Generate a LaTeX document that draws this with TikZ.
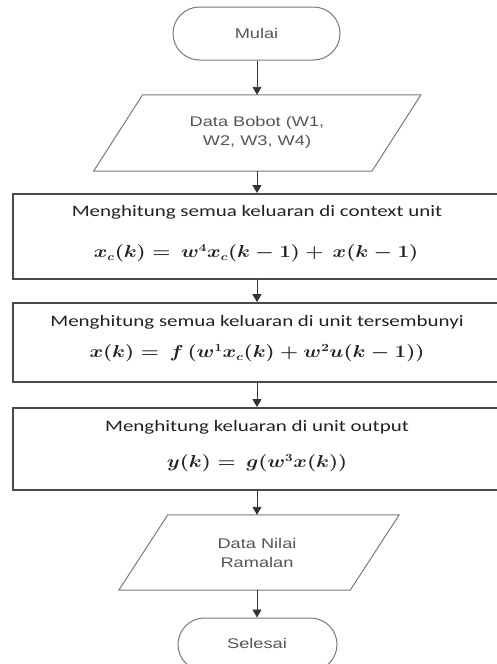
\documentclass[tikz,border=0pt]{standalone}
\usepackage{fontspec}
\setmainfont{Liberation Sans}
\newfontfamily\boxfont{Carlito}
\usetikzlibrary{arrows.meta,shapes.misc}
\definecolor{termgray}{HTML}{7A7A7A}
\definecolor{framegray}{HTML}{4A4A4A}
\definecolor{arrowgray}{HTML}{333333}
\definecolor{textgray}{HTML}{555555}
\definecolor{inkdark}{HTML}{222222}
\newcommand\wide[1]{\scalebox{1.3}[1]{#1}}
\newcommand\wider[1]{\scalebox{1.31}[1]{#1}}
\newcommand\widest[1]{\scalebox{1.2}[1]{#1}}
\begin{document}
\begin{tikzpicture}[x=1pt,y=-1pt,
  term/.style={rounded rectangle, draw=termgray, line width=1pt,
    minimum height=53pt, inner sep=0pt},
  frame/.style={draw=framegray, line width=1.8pt, minimum width=488pt, inner sep=0pt},
  iobox/.style={draw=none, inner sep=0pt, minimum height=76pt},
  para/.style={draw=termgray, line width=1pt, line join=miter},
  flow/.style={draw=arrowgray, line width=0.9pt, -{Triangle[length=8pt,width=9pt]}},
  soft/.style={font=\fontsize{14}{19}\selectfont, text=textgray, align=center, inner sep=0pt},
  proc/.style={font=\boxfont\fontsize{16}{19}\selectfont, text=inkdark, inner sep=0pt},
  eq/.style={font=\fontsize{16}{19}\selectfont\boldmath, text=inkdark, inner sep=0pt}
]
\useasboundingbox (0,0) rectangle (497,664);
\begin{scope}
\clip (0,0) rectangle (497,664);

% start / end terminators
\node[term, minimum width=167pt] (mulai) at (256.5,33.5) {};
\node[soft] (mulaiT) at (256.5,33.5) {\wide{Mulai}};

% input: weights
\node[iobox, minimum width=278pt] (bobot) at (257.25,133) {};
\draw[para] ([xshift=24.5pt]bobot.north west) -- ([xshift=24.5pt]bobot.north east)
  -- ([xshift=-24.5pt]bobot.south east) -- ([xshift=-24.5pt]bobot.south west) -- cycle;
\node[soft] (bobotT) at (257,132.5) {\wide{Data Bobot (W1,}\\\wide{W2, W3, W4)}};

% process 1: context unit
\node[frame, minimum height=85pt] (ctx) at (257,236.5) {};
\node[proc] (ctxT) at (257,212) {\wider{Menghitung semua keluaran di context unit}};
\node[eq] (ctxE) at (256,253) {\widest{$x_c(k) = \,w^4x_c(k-1) + \,x(k-1)$}};

% process 2: hidden unit
\node[frame, minimum height=79pt] (hid) at (257,342.5) {};
\node[proc] (hidT) at (257,322) {\wider{Menghitung semua keluaran di unit tersembunyi}};
\node[eq] (hidE) at (257,353) {\widest{$x(k) = \,f\,(w^1x_c(k) + w^2u(k-1))$}};

% process 3: output unit
\node[frame, minimum height=82pt] (out) at (257,449) {};
\node[proc] (outT) at (257,427) {\wider{Menghitung keluaran di unit output}};
\node[eq] (outE) at (257,463) {\widest{$y(k) = \,g(w^3x(k))$}};

% output: forecast values
\node[iobox, minimum width=231pt, minimum height=75pt] (ramal) at (259,552.5) {};
\draw[para] ([xshift=24.5pt]ramal.north west) -- ([xshift=24.5pt]ramal.north east)
  -- ([xshift=-24.5pt]ramal.south east) -- ([xshift=-24.5pt]ramal.south west) -- cycle;
\node[soft] (ramalT) at (257,552.5) {\wide{Data Nilai}\\\wide{Ramalan}};

\node[term, minimum width=159pt] (selesai) at (257.5,644.5) {};
\node[soft] (selesaiT) at (257,643) {\wide{Selesai}};

% connectors
\coordinate (axis) at (257,0);
\draw[flow] (axis |- mulai.south) -- (axis |- bobot.north);
\draw[flow] (axis |- bobot.south) -- (axis |- ctx.north);
\draw[flow] (axis |- ctx.south) -- (axis |- hid.north);
\draw[flow] (axis |- hid.south) -- (axis |- out.north);
\draw[flow] (axis |- out.south) -- (axis |- ramal.north);
\draw[flow] (axis |- ramal.south) -- (axis |- selesai.north);
\end{scope}
\end{tikzpicture}
\end{document}
